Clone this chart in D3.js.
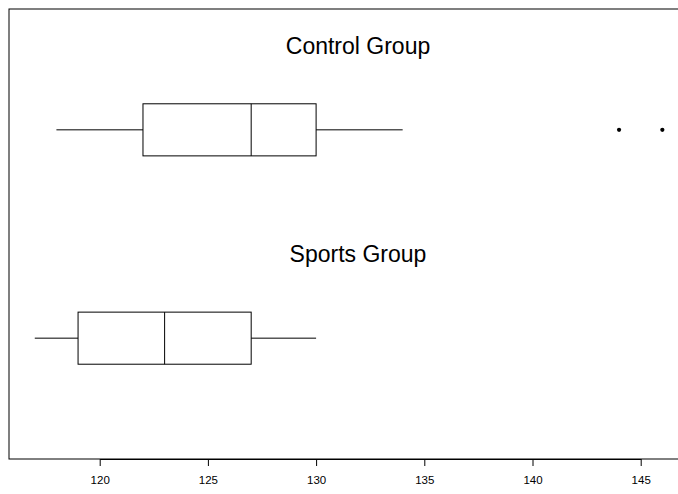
<!DOCTYPE html>
<html>
<head>
<meta charset="utf-8">
<script src="https://cdn.jsdelivr.net/npm/d3@7"></script>
<style>
  html, body { margin: 0; padding: 0; background: #fff; }
  svg { display: block; }
</style>
</head>
<body>
<div id="chart"></div>
<script>
const groups = ["Control Group", "Sports Group"];
const groupPos = [2, 1];
const whiskLow = [118, 117];
const q1 = [122, 119];
const medians = [127, 123];
const q3 = [130, 127];
const whiskHigh = [134, 130];
const outliers = [[144, 146], []];
const tickValues = [120, 125, 130, 135, 140, 145];

const w = 678;
const h = 494;

const xScale = d3.scaleLinear()
  .domain([120, 145])
  .range([99.7, 640.7]);

const yScale = d3.scaleLinear()
  .domain([0.42, 2.58])
  .range([459, 9]);

const boxHalf = 0.125;

const svg = d3.select("#chart")
  .append("svg")
  .attr("width", w)
  .attr("height", h);

// plot frame
svg.append("rect")
  .attr("x", 9)
  .attr("y", 9)
  .attr("width", 690)
  .attr("height", 450)
  .attr("fill", "none")
  .attr("stroke", "#000")
  .attr("stroke-width", 1);

const data = groups.map((g, i) => ({
  name: g,
  pos: groupPos[i],
  lo: whiskLow[i],
  q1: q1[i],
  med: medians[i],
  q3: q3[i],
  hi: whiskHigh[i],
  out: outliers[i]
}));

const box = svg.selectAll(".box")
  .data(data)
  .enter()
  .append("g")
  .attr("class", "box");

// whiskers
box.append("line")
  .attr("x1", (d) => xScale(d.lo))
  .attr("x2", (d) => xScale(d.q1))
  .attr("y1", (d) => yScale(d.pos))
  .attr("y2", (d) => yScale(d.pos))
  .attr("stroke", "#000");

box.append("line")
  .attr("x1", (d) => xScale(d.q3))
  .attr("x2", (d) => xScale(d.hi))
  .attr("y1", (d) => yScale(d.pos))
  .attr("y2", (d) => yScale(d.pos))
  .attr("stroke", "#000");

box.append("rect")
  .attr("x", (d) => xScale(d.q1))
  .attr("y", (d) => yScale(d.pos + boxHalf))
  .attr("width", (d) => xScale(d.q3) - xScale(d.q1))
  .attr("height", (d) => yScale(d.pos - boxHalf) - yScale(d.pos + boxHalf))
  .attr("fill", "none")
  .attr("stroke", "#000");

box.append("line")
  .attr("x1", (d) => xScale(d.med))
  .attr("x2", (d) => xScale(d.med))
  .attr("y1", (d) => yScale(d.pos + boxHalf))
  .attr("y2", (d) => yScale(d.pos - boxHalf))
  .attr("stroke", "#000");

box.selectAll("circle")
  .data((d) => d.out.map((v) => ({ v: v, pos: d.pos })))
  .enter()
  .append("circle")
  .attr("cx", (d) => xScale(d.v))
  .attr("cy", (d) => yScale(d.pos))
  .attr("r", 2.1)
  .attr("fill", "#000");

// group titles
box.append("text")
  .attr("x", 358)
  .attr("y", (d) => yScale(d.pos) - 76)
  .attr("text-anchor", "middle")
  .attr("font-family", "Liberation Sans, Arial, sans-serif")
  .attr("font-size", "23px")
  .attr("fill", "#000")
  .text((d) => d.name);

const xAxis = d3.axisBottom(xScale)
  .tickValues(tickValues)
  .tickSize(7)
  .tickPadding(10)
  .tickSizeOuter(0);

const ax = svg.append("g")
  .attr("id", "x-axis")
  .attr("transform", "translate(0, 459)")
  .call(xAxis);

ax.selectAll("text")
  .attr("font-family", "Liberation Sans, Arial, sans-serif")
  .attr("font-size", "11.5px")
  .attr("fill", "#000");
ax.selectAll("line, path").attr("stroke", "#000");
</script>
</body>
</html>
